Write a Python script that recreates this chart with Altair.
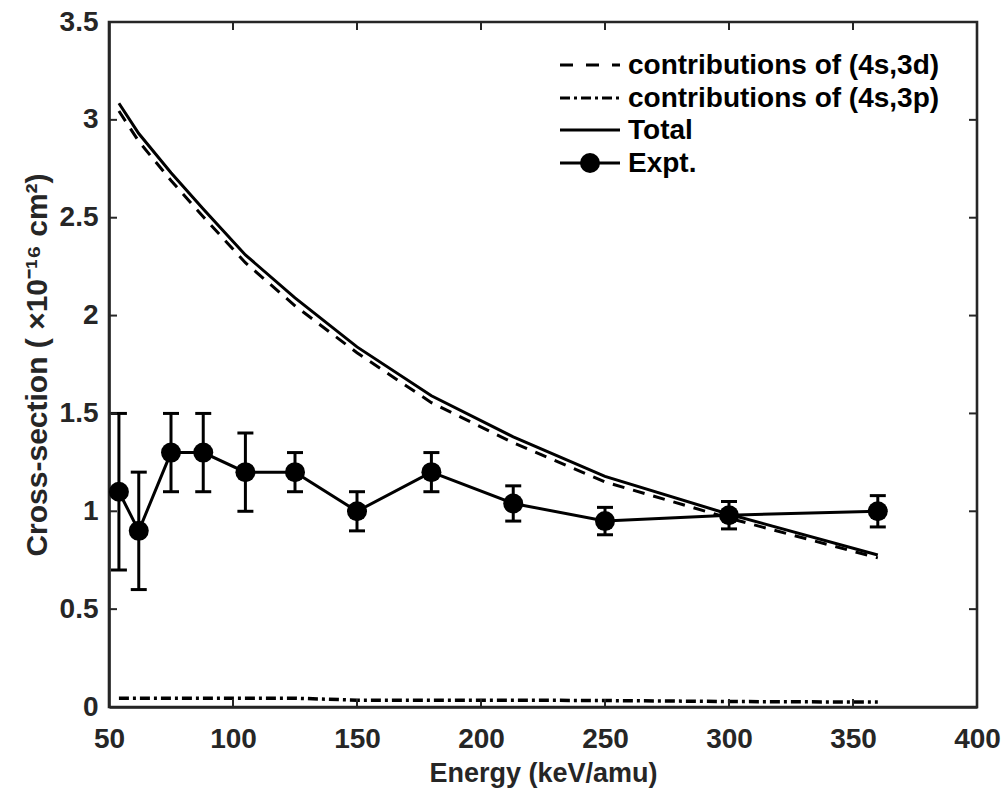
import altair as alt
import pandas as pd

# ---------------- data ----------------
energy = [54, 62, 75, 88, 105, 125, 150, 180, 213, 250, 300, 360]
expt = [1.10, 0.90, 1.30, 1.30, 1.20, 1.20, 1.00, 1.20, 1.04, 0.95, 0.98, 1.00]
expt_err = [0.40, 0.30, 0.20, 0.20, 0.20, 0.10, 0.10, 0.10, 0.09, 0.07, 0.07, 0.08]
total = [3.085, 2.93, 2.73, 2.545, 2.31, 2.09, 1.84, 1.59, 1.38, 1.178, 0.985, 0.777]
c3d = [3.045, 2.89, 2.69, 2.505, 2.27, 2.05, 1.81, 1.555, 1.35, 1.15, 0.965, 0.762]
c3p = [0.045, 0.045, 0.045, 0.045, 0.045, 0.045, 0.035, 0.035, 0.035, 0.033, 0.028, 0.025]

x_ticks = [50, 100, 150, 200, 250, 300, 350, 400]
y_ticks = [0, 0.5, 1, 1.5, 2, 2.5, 3, 3.5]
legend_labels = ["contributions of (4s,3d)", "contributions of (4s,3p)", "Total", "Expt."]

df = pd.DataFrame({
    "E": energy,
    "expt": expt,
    "lo": [v - e for v, e in zip(expt, expt_err)],
    "hi": [v + e for v, e in zip(expt, expt_err)],
    "total": total,
    "c3d": c3d,
    "c3p": c3p,
})
xt = pd.DataFrame({"v": x_ticks[1:-1]})
yt = pd.DataFrame({"v": y_ticks[1:-1]})
dummy = pd.DataFrame({"a": [0]})

W, H = 868, 685
FONT = "Liberation Sans"
AX = "#262626"

xscale = alt.Scale(domain=[50, 400], nice=False, zero=False)
yscale = alt.Scale(domain=[0, 3.5], nice=False)
xaxis = alt.Axis(values=x_ticks, format="d", title="Energy (keV/amu)", grid=False,
                 tickSize=0, labelPadding=18, titlePadding=7, labelFontSize=28)
yaxis = alt.Axis(values=y_ticks, format="~g",
                 title="Cross-section ( \u00d710\u207b\u00b9\u2076 cm\u00b2)", grid=False,
                 tickSize=0, labelPadding=11, titlePadding=7, titleFontSize=30)


def X(field):
    return alt.X(f"{field}:Q", scale=xscale, axis=xaxis)


def Y(field):
    return alt.Y(f"{field}:Q", scale=yscale, axis=yaxis)


base = alt.Chart(df)
LW = 3

l_total = base.mark_line(color="black", strokeWidth=LW).encode(x=X("E"), y=Y("total"))
l_3d = base.mark_line(color="black", strokeWidth=LW, strokeDash=[12, 9]).encode(x=X("E"), y=Y("c3d"))
l_3p = base.mark_line(color="black", strokeWidth=LW + 0.5, strokeDash=[10, 4, 3, 4]).encode(x=X("E"), y=Y("c3p"))
l_expt = base.mark_line(color="black", strokeWidth=LW).encode(x=X("E"), y=Y("expt"))
err = base.mark_rule(color="black", strokeWidth=LW).encode(x=X("E"), y=Y("lo"), y2="hi")
cap_lo = base.mark_rule(color="black", strokeWidth=LW, xOffset=-8, x2Offset=8).encode(
    x=X("E"), x2="E", y=Y("lo"))
cap_hi = base.mark_rule(color="black", strokeWidth=LW, xOffset=-8, x2Offset=8).encode(
    x=X("E"), x2="E", y=Y("hi"))
pts = base.mark_circle(color="black", opacity=1, size=400).encode(x=X("E"), y=Y("expt"))

# inward ticks (MATLAB box style)
TL = 8
tk_left = alt.Chart(yt).mark_rule(color=AX, strokeWidth=2).encode(
    y=Y("v"), x=alt.value(0), x2=alt.value(TL))
tk_right = alt.Chart(yt).mark_rule(color=AX, strokeWidth=2).encode(
    y=Y("v"), x=alt.value(W - TL), x2=alt.value(W))
tk_bot = alt.Chart(xt).mark_rule(color=AX, strokeWidth=2).encode(
    x=X("v"), y=alt.value(H), y2=alt.value(H - TL))
tk_top = alt.Chart(xt).mark_rule(color=AX, strokeWidth=2).encode(
    x=X("v"), y=alt.value(0), y2=alt.value(TL))

# legend (built inside the plot area)
LX0, LX1, TX = 451, 511, 519
rows = [43, 76, 108, 141]
leg = []
dashes = [[13, 13], [10, 4, 3, 4], None, None]
for i, lab in enumerate(legend_labels):
    kw = dict(color="black", strokeWidth=LW)
    if dashes[i] is not None:
        kw["strokeDash"] = dashes[i]
    leg.append(alt.Chart(dummy).mark_rule(**kw).encode(
        x=alt.value(LX0), x2=alt.value(LX1), y=alt.value(rows[i])))
    leg.append(alt.Chart(dummy).mark_text(
        align="left", baseline="middle", font=FONT, fontSize=28, fontWeight="bold",
        color="black").encode(x=alt.value(TX), y=alt.value(rows[i] + 1), text=alt.value(lab)))
leg.append(alt.Chart(dummy).mark_circle(color="black", opacity=1, size=400).encode(
    x=alt.value((LX0 + LX1) / 2), y=alt.value(rows[3])))

chart = alt.layer(
    l_3p, l_3d, l_total, err, cap_lo, cap_hi, l_expt, pts,
    tk_left, tk_right, tk_bot, tk_top, *leg
).properties(
    width=W, height=H,
    autosize=alt.AutoSizeParams(type="none"),
    padding={"left": 109, "top": 22, "right": 31, "bottom": 84},
    background="white",
).configure_view(
    stroke=AX, strokeWidth=2.6
).configure_axis(
    domain=True, domainColor=AX, domainWidth=2.6,
    labelFont=FONT, labelFontSize=28, labelFontWeight="bold", labelColor=AX,
    titleFont=FONT, titleFontSize=27, titleFontWeight="bold", titleColor=AX,
    labelFlush=False, labelOverlap=False,
)

chart.save("out.html", embed_options={"renderer": "svg", "actions": False})
